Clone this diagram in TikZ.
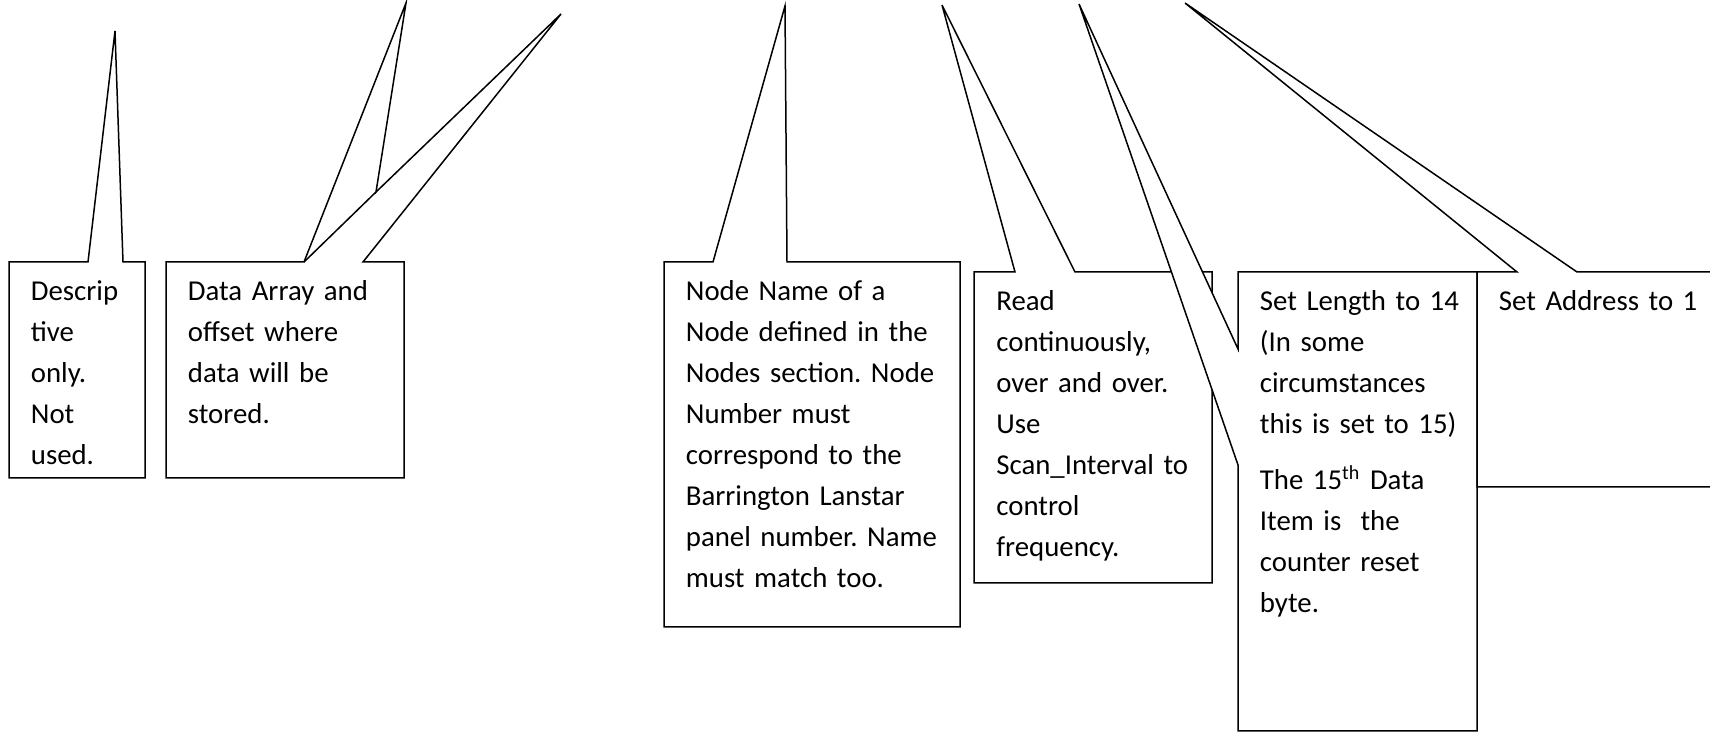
\documentclass[tikz,border=0pt]{standalone}
\usepackage{fontspec}
\setmainfont{Carlito}
\frenchspacing

\tikzset{
    callout/.style={draw=black, fill=white, line width=0.75pt, line join=miter},
    note/.style={anchor=north west, inner sep=0pt, text width=300pt, align=left,
        font=\fontsize{14.4}{20.5}\selectfont, execute at begin node=\strut}
}

\begin{document}
\begin{tikzpicture}[x=0.5pt, y=-0.5pt]

    \useasboundingbox (0,0) rectangle (1710,732);

    \filldraw[callout] (9,262) -- (88,262) -- (115,31) -- (123,262) -- (145,262) -- (145,478) -- (9,478) -- cycle;
    \node[note] (descrip) at (30.5,271.8) {Descrip\\tive\\only.\\Not\\used.};

    \filldraw[callout] (166,262) -- (304,262) -- (406,3) -- (376,192) -- (561,14) -- (363,262) -- (404,262) -- (404,478) -- (166,478) -- cycle;
    \draw[callout] (304,262) -- (376,192);
    \node[note] (dataarray) at (187.5,271.8) {Data Array and\\offset where\\data will be\\stored.};

    \filldraw[callout] (664,262) -- (713,262) -- (785,6) -- (787,262) -- (960,262) -- (960,627) -- (664,627) -- cycle;
    \node[note] (nodename) at (685.5,271.8) {Node Name of a\\Node defined in the\\Nodes section. Node\\Number must\\correspond to the\\Barrington Lanstar\\panel number. Name\\must match too.};

    \filldraw[callout] (974,272) -- (1015,272) -- (942,5) -- (1075,272) -- (1212,272) -- (1212,583) -- (974,583) -- cycle;
    \node[note] (readmode) at (996,281.8) {Read\\continuously,\\over and over.\\Use\\Scan\_Interval to\\control\\frequency.};

    \filldraw[callout] (1238,272) -- (1477,272) -- (1477,731) -- (1238,731) -- (1238,465) -- (1079,4) -- (1238,349) -- cycle;
    \node[note] (setlength) at (1259.5,281.8) {Set Length to 14\\(In some\\circumstances\\this is set to 15)\\[7.5pt]The 15\textsuperscript{th} Data\\Item is\ \ the\\counter reset\\byte.};

    \filldraw[callout] (1477,272) -- (1517,272) -- (1185,3) -- (1577,272) -- (1716,272) -- (1716,487) -- (1477,487) -- cycle;
    \node[note] (setaddr) at (1498.5,281.8) {Set Address to 1};

\end{tikzpicture}
\end{document}
